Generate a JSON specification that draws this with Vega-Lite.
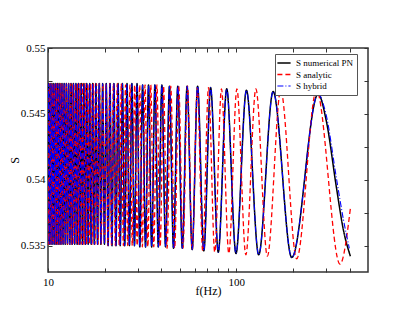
{
"$schema":"https://vega.github.io/schema/vega-lite/v6.json",
"width":320,"height":224,
"autosize":{"type":"none"},
"padding":{"left":48,"top":48,"right":47,"bottom":49},
"background":"white",
"config":{"view":{"stroke":"#333","strokeWidth":1.5},"font":"Liberation Serif"},
"data":{"values":[
{"f":10,"S":0.5446,"c":"n"},{"f":10.034,"S":0.5473,"c":"n"},{"f":10.146,"S":0.5351,"c":"n"},{"f":10.261,"S":0.5473,"c":"n"},{"f":10.378,"S":0.5351,"c":"n"},{"f":10.498,"S":0.5473,"c":"n"},{"f":10.62,"S":0.5351,"c":"n"},{"f":10.746,"S":0.5473,"c":"n"},{"f":10.874,"S":0.5351,"c":"n"},{"f":11.006,"S":0.5473,"c":"n"},{"f":11.141,"S":0.5351,"c":"n"},{"f":11.279,"S":0.5473,"c":"n"},{"f":11.421,"S":0.5351,"c":"n"},{"f":11.566,"S":0.5473,"c":"n"},{"f":11.715,"S":0.5351,"c":"n"},{"f":11.868,"S":0.5473,"c":"n"},{"f":12.025,"S":0.5351,"c":"n"},{"f":12.186,"S":0.5473,"c":"n"},{"f":12.352,"S":0.5351,"c":"n"},{"f":12.522,"S":0.5473,"c":"n"},{"f":12.697,"S":0.5351,"c":"n"},{"f":12.877,"S":0.5473,"c":"n"},{"f":13.062,"S":0.5351,"c":"n"},{"f":13.252,"S":0.5473,"c":"n"},{"f":13.448,"S":0.5351,"c":"n"},{"f":13.65,"S":0.5473,"c":"n"},{"f":13.858,"S":0.5351,"c":"n"},{"f":14.073,"S":0.5473,"c":"n"},{"f":14.294,"S":0.5351,"c":"n"},{"f":14.522,"S":0.5473,"c":"n"},{"f":14.758,"S":0.5351,"c":"n"},{"f":15.002,"S":0.5473,"c":"n"},{"f":15.253,"S":0.5351,"c":"n"},{"f":15.513,"S":0.5473,"c":"n"},{"f":15.783,"S":0.5351,"c":"n"},{"f":16.061,"S":0.5473,"c":"n"},{"f":16.351,"S":0.5351,"c":"n"},{"f":16.65,"S":0.5473,"c":"n"},{"f":16.961,"S":0.5351,"c":"n"},{"f":17.283,"S":0.5473,"c":"n"},{"f":17.618,"S":0.5351,"c":"n"},{"f":17.966,"S":0.5473,"c":"n"},{"f":18.328,"S":0.5351,"c":"n"},{"f":18.706,"S":0.5473,"c":"n"},{"f":19.099,"S":0.5351,"c":"n"},{"f":19.509,"S":0.5473,"c":"n"},{"f":19.936,"S":0.5351,"c":"n"},{"f":20.383,"S":0.5473,"c":"n"},{"f":20.851,"S":0.535,"c":"n"},{"f":21.34,"S":0.5473,"c":"n"},{"f":21.853,"S":0.535,"c":"n"},{"f":22.391,"S":0.5473,"c":"n"},{"f":22.957,"S":0.535,"c":"n"},{"f":23.551,"S":0.5473,"c":"n"},{"f":24.178,"S":0.535,"c":"n"},{"f":24.839,"S":0.5473,"c":"n"},{"f":25.536,"S":0.535,"c":"n"},{"f":26.274,"S":0.5473,"c":"n"},{"f":27.056,"S":0.535,"c":"n"},{"f":27.886,"S":0.5473,"c":"n"},{"f":28.769,"S":0.535,"c":"n"},{"f":29.709,"S":0.5473,"c":"n"},{"f":30.713,"S":0.5349,"c":"n"},{"f":31.786,"S":0.5472,"c":"n"},{"f":32.938,"S":0.5349,"c":"n"},{"f":34.176,"S":0.5472,"c":"n"},{"f":35.511,"S":0.5349,"c":"n"},{"f":36.955,"S":0.5472,"c":"n"},{"f":38.521,"S":0.5349,"c":"n"},{"f":40.225,"S":0.5472,"c":"n"},{"f":42.088,"S":0.5349,"c":"n"},{"f":44.131,"S":0.5471,"c":"n"},{"f":46.382,"S":0.5348,"c":"n"},{"f":48.876,"S":0.5471,"c":"n"},{"f":51.653,"S":0.5348,"c":"n"},{"f":54.765,"S":0.5471,"c":"n"},{"f":58.275,"S":0.5347,"c":"n"},{"f":62.267,"S":0.5471,"c":"n"},{"f":67.2,"S":0.5346,"c":"n"},{"f":72.99,"S":0.547,"c":"n"},{"f":80.16,"S":0.5345,"c":"n"},{"f":88.89,"S":0.5469,"c":"n"},{"f":99.55,"S":0.5344,"c":"n"},{"f":113.12,"S":0.5468,"c":"n"},{"f":131.4,"S":0.5343,"c":"n"},{"f":156.74,"S":0.5467,"c":"n"},{"f":196.9,"S":0.5341,"c":"n"},{"f":271.7,"S":0.5465,"c":"n"},{"f":300,"S":0.5445,"c":"n"},{"f":340,"S":0.5394,"c":"n"},{"f":370,"S":0.5362,"c":"n"},{"f":403,"S":0.5342,"c":"n"},
{"f":10,"S":0.5401,"c":"a"},{"f":10.046,"S":0.5351,"c":"a"},{"f":10.151,"S":0.5473,"c":"a"},{"f":10.258,"S":0.5351,"c":"a"},{"f":10.368,"S":0.5473,"c":"a"},{"f":10.479,"S":0.5351,"c":"a"},{"f":10.594,"S":0.5473,"c":"a"},{"f":10.711,"S":0.5351,"c":"a"},{"f":10.83,"S":0.5473,"c":"a"},{"f":10.952,"S":0.5351,"c":"a"},{"f":11.077,"S":0.5473,"c":"a"},{"f":11.205,"S":0.5351,"c":"a"},{"f":11.336,"S":0.5473,"c":"a"},{"f":11.47,"S":0.5351,"c":"a"},{"f":11.607,"S":0.5473,"c":"a"},{"f":11.748,"S":0.5351,"c":"a"},{"f":11.891,"S":0.5473,"c":"a"},{"f":12.039,"S":0.5351,"c":"a"},{"f":12.19,"S":0.5473,"c":"a"},{"f":12.345,"S":0.5351,"c":"a"},{"f":12.504,"S":0.5473,"c":"a"},{"f":12.667,"S":0.5351,"c":"a"},{"f":12.834,"S":0.5473,"c":"a"},{"f":13.006,"S":0.5351,"c":"a"},{"f":13.183,"S":0.5473,"c":"a"},{"f":13.365,"S":0.5351,"c":"a"},{"f":13.551,"S":0.5473,"c":"a"},{"f":13.743,"S":0.5351,"c":"a"},{"f":13.94,"S":0.5473,"c":"a"},{"f":14.143,"S":0.5351,"c":"a"},{"f":14.352,"S":0.5473,"c":"a"},{"f":14.568,"S":0.5351,"c":"a"},{"f":14.79,"S":0.5473,"c":"a"},{"f":15.018,"S":0.5351,"c":"a"},{"f":15.254,"S":0.5473,"c":"a"},{"f":15.498,"S":0.5351,"c":"a"},{"f":15.749,"S":0.5473,"c":"a"},{"f":16.009,"S":0.5351,"c":"a"},{"f":16.277,"S":0.5473,"c":"a"},{"f":16.555,"S":0.5351,"c":"a"},{"f":16.842,"S":0.5473,"c":"a"},{"f":17.139,"S":0.5351,"c":"a"},{"f":17.447,"S":0.5473,"c":"a"},{"f":17.767,"S":0.5351,"c":"a"},{"f":18.098,"S":0.5473,"c":"a"},{"f":18.442,"S":0.5351,"c":"a"},{"f":18.799,"S":0.5473,"c":"a"},{"f":19.17,"S":0.5351,"c":"a"},{"f":19.556,"S":0.5473,"c":"a"},{"f":19.958,"S":0.5351,"c":"a"},{"f":20.38,"S":0.5473,"c":"a"},{"f":20.81,"S":0.535,"c":"a"},{"f":21.27,"S":0.5473,"c":"a"},{"f":21.75,"S":0.535,"c":"a"},{"f":22.24,"S":0.5473,"c":"a"},{"f":22.77,"S":0.535,"c":"a"},{"f":23.31,"S":0.5473,"c":"a"},{"f":23.89,"S":0.535,"c":"a"},{"f":24.49,"S":0.5473,"c":"a"},{"f":25.12,"S":0.535,"c":"a"},{"f":25.79,"S":0.5472,"c":"a"},{"f":26.49,"S":0.535,"c":"a"},{"f":27.24,"S":0.5472,"c":"a"},{"f":28.02,"S":0.535,"c":"a"},{"f":28.86,"S":0.5472,"c":"a"},{"f":29.74,"S":0.535,"c":"a"},{"f":30.68,"S":0.5472,"c":"a"},{"f":31.68,"S":0.5349,"c":"a"},{"f":32.75,"S":0.5472,"c":"a"},{"f":33.89,"S":0.5349,"c":"a"},{"f":35.12,"S":0.5472,"c":"a"},{"f":36.44,"S":0.5349,"c":"a"},{"f":37.86,"S":0.5472,"c":"a"},{"f":39.39,"S":0.5349,"c":"a"},{"f":41.06,"S":0.5471,"c":"a"},{"f":42.87,"S":0.5348,"c":"a"},{"f":44.85,"S":0.5471,"c":"a"},{"f":47.03,"S":0.5348,"c":"a"},{"f":49.42,"S":0.5471,"c":"a"},{"f":52.07,"S":0.5348,"c":"a"},{"f":55.02,"S":0.5471,"c":"a"},{"f":58.33,"S":0.5347,"c":"a"},{"f":62.05,"S":0.547,"c":"a"},{"f":66.29,"S":0.5346,"c":"a"},{"f":71.15,"S":0.547,"c":"a"},{"f":76.78,"S":0.5345,"c":"a"},{"f":83.37,"S":0.5469,"c":"a"},{"f":91.2,"S":0.5344,"c":"a"},{"f":100.65,"S":0.5469,"c":"a"},{"f":112.3,"S":0.5343,"c":"a"},{"f":126.98,"S":0.5469,"c":"a"},{"f":146.09,"S":0.5342,"c":"a"},{"f":171.97,"S":0.5468,"c":"a"},{"f":208.99,"S":0.534,"c":"a"},{"f":266.3,"S":0.5468,"c":"a"},{"f":355,"S":0.5336,"c":"a"},{"f":403,"S":0.5378,"c":"a"},
{"f":10,"S":0.5446,"c":"h"},{"f":10.034,"S":0.5473,"c":"h"},{"f":10.146,"S":0.5351,"c":"h"},{"f":10.261,"S":0.5473,"c":"h"},{"f":10.378,"S":0.5351,"c":"h"},{"f":10.498,"S":0.5473,"c":"h"},{"f":10.62,"S":0.5351,"c":"h"},{"f":10.746,"S":0.5473,"c":"h"},{"f":10.874,"S":0.5351,"c":"h"},{"f":11.006,"S":0.5473,"c":"h"},{"f":11.141,"S":0.5351,"c":"h"},{"f":11.279,"S":0.5473,"c":"h"},{"f":11.421,"S":0.5351,"c":"h"},{"f":11.566,"S":0.5473,"c":"h"},{"f":11.715,"S":0.5351,"c":"h"},{"f":11.868,"S":0.5473,"c":"h"},{"f":12.025,"S":0.5351,"c":"h"},{"f":12.186,"S":0.5473,"c":"h"},{"f":12.352,"S":0.5351,"c":"h"},{"f":12.522,"S":0.5473,"c":"h"},{"f":12.697,"S":0.5351,"c":"h"},{"f":12.877,"S":0.5473,"c":"h"},{"f":13.062,"S":0.5351,"c":"h"},{"f":13.252,"S":0.5473,"c":"h"},{"f":13.448,"S":0.5351,"c":"h"},{"f":13.65,"S":0.5473,"c":"h"},{"f":13.858,"S":0.5351,"c":"h"},{"f":14.073,"S":0.5473,"c":"h"},{"f":14.294,"S":0.5351,"c":"h"},{"f":14.522,"S":0.5473,"c":"h"},{"f":14.758,"S":0.5351,"c":"h"},{"f":15.002,"S":0.5473,"c":"h"},{"f":15.253,"S":0.5351,"c":"h"},{"f":15.513,"S":0.5473,"c":"h"},{"f":15.783,"S":0.5351,"c":"h"},{"f":16.061,"S":0.5473,"c":"h"},{"f":16.351,"S":0.5351,"c":"h"},{"f":16.65,"S":0.5473,"c":"h"},{"f":16.961,"S":0.5351,"c":"h"},{"f":17.283,"S":0.5473,"c":"h"},{"f":17.618,"S":0.5351,"c":"h"},{"f":17.966,"S":0.5473,"c":"h"},{"f":18.328,"S":0.5351,"c":"h"},{"f":18.706,"S":0.5473,"c":"h"},{"f":19.099,"S":0.5351,"c":"h"},{"f":19.509,"S":0.5473,"c":"h"},{"f":19.936,"S":0.5351,"c":"h"},{"f":20.383,"S":0.5473,"c":"h"},{"f":20.851,"S":0.535,"c":"h"},{"f":21.34,"S":0.5473,"c":"h"},{"f":21.853,"S":0.535,"c":"h"},{"f":22.391,"S":0.5473,"c":"h"},{"f":22.957,"S":0.535,"c":"h"},{"f":23.551,"S":0.5473,"c":"h"},{"f":24.178,"S":0.535,"c":"h"},{"f":24.839,"S":0.5473,"c":"h"},{"f":25.536,"S":0.535,"c":"h"},{"f":26.274,"S":0.5473,"c":"h"},{"f":27.056,"S":0.535,"c":"h"},{"f":27.886,"S":0.5473,"c":"h"},{"f":28.769,"S":0.535,"c":"h"},{"f":29.709,"S":0.5473,"c":"h"},{"f":30.713,"S":0.5349,"c":"h"},{"f":31.786,"S":0.5472,"c":"h"},{"f":32.938,"S":0.5349,"c":"h"},{"f":34.176,"S":0.5472,"c":"h"},{"f":35.511,"S":0.5349,"c":"h"},{"f":36.955,"S":0.5472,"c":"h"},{"f":38.521,"S":0.5349,"c":"h"},{"f":40.225,"S":0.5472,"c":"h"},{"f":42.088,"S":0.5349,"c":"h"},{"f":44.131,"S":0.5471,"c":"h"},{"f":46.382,"S":0.5348,"c":"h"},{"f":48.876,"S":0.5471,"c":"h"},{"f":51.653,"S":0.5348,"c":"h"},{"f":54.765,"S":0.5471,"c":"h"},{"f":58.275,"S":0.5347,"c":"h"},{"f":62.267,"S":0.5471,"c":"h"},{"f":67.2,"S":0.5346,"c":"h"},{"f":72.99,"S":0.547,"c":"h"},{"f":80.16,"S":0.5345,"c":"h"},{"f":88.89,"S":0.5469,"c":"h"},{"f":99.55,"S":0.5344,"c":"h"},{"f":113.12,"S":0.5468,"c":"h"},{"f":131.4,"S":0.5343,"c":"h"},{"f":156.74,"S":0.5467,"c":"h"},{"f":196.9,"S":0.5341,"c":"h"},{"f":271.7,"S":0.5465,"c":"h"},{"f":300,"S":0.5449,"c":"h"},{"f":340,"S":0.5401,"c":"h"},{"f":370,"S":0.537,"c":"h"},{"f":398,"S":0.5348,"c":"h"}
]},
"layer":[
{"mark":{"type":"line","interpolate":"monotone","clip":true},
 "encoding":{
  "x":{"field":"f","type":"quantitative","scale":{"type":"log","domain":[10,500],"nice":false},
   "axis":{"orient":"bottom","values":[10,20,30,40,50,60,70,80,90,100,200,300,400],"labelExpr":"datum.value==10?'10':datum.value==100?'100':''","labelFlush":false,"labelOverlap":false,"grid":false,"domain":false,"tickSize":-4,"tickColor":"#333","labelPadding":8,"labelFont":"Liberation Serif","labelFontSize":11,"labelColor":"black","title":"f(Hz)","titleFont":"Liberation Serif","titleFontSize":12,"titleFontWeight":"normal","titleColor":"black","titleBaseline":"alphabetic","titleY":22}},
  "y":{"field":"S","type":"quantitative","scale":{"domain":[0.533,0.55],"nice":false,"zero":false},
   "axis":{"orient":"left","values":[0.535,0.5375,0.54,0.5425,0.545,0.5475,0.55],"labelExpr":"abs(datum.value*200-round(datum.value*200))<0.01?''+datum.value:''","labelFlush":false,"labelOverlap":false,"grid":false,"domain":false,"tickSize":-4,"tickColor":"#333","labelPadding":7,"labelFont":"Liberation Serif","labelFontSize":11,"labelColor":"black","title":"S","titleFont":"Liberation Serif","titleFontSize":12,"titleFontWeight":"normal","titleColor":"black","titleX":-27,"titleY":112}},
  "strokeWidth":{"field":"c","type":"ordinal","scale":{"domain":["n","a","h"],"range":[1.5,1.1,1.2]},"legend":null},
  "color":{"field":"c","type":"nominal","scale":{"domain":["n","a","h"],"range":["#000000","#ff0000","#0000ff"]},
   "legend":{"orient":"none","legendX":227,"legendY":6,"title":null,"padding":4,"strokeColor":"#555","fillColor":"white","symbolType":"M-1.65,0H1.65","symbolSize":64,"symbolStrokeWidth":1.4,"labelFont":"Liberation Serif","labelFontSize":9,"labelColor":"black","labelOffset":7,"rowPadding":1.5,"labelExpr":"datum.value=='n'?'S numerical PN':datum.value=='a'?'S analytic':'S hybrid'"}},
  "strokeDash":{"field":"c","type":"nominal","scale":{"domain":["n","a","h"],"range":[[1,0],[5,3],[6,2,1,2]]},
   "legend":{"orient":"none","legendX":227,"legendY":6,"title":null,"padding":4,"strokeColor":"#555","fillColor":"white","symbolType":"M-1.65,0H1.65","symbolSize":64,"symbolStrokeWidth":1.4,"labelFont":"Liberation Serif","labelFontSize":9,"labelColor":"black","labelOffset":7,"rowPadding":1.5,"labelExpr":"datum.value=='n'?'S numerical PN':datum.value=='a'?'S analytic':'S hybrid'"}}
 }},
{"mark":{"type":"point","opacity":0},
 "encoding":{
  "x":{"field":"f","type":"quantitative","scale":{"type":"log","domain":[10,500],"nice":false},
   "axis":{"orient":"top","values":[10,20,30,40,50,60,70,80,90,100,200,300,400],"labels":false,"grid":false,"domain":false,"tickSize":-4,"tickColor":"#333","title":null}},
  "y":{"field":"S","type":"quantitative","scale":{"domain":[0.533,0.55],"nice":false,"zero":false},
   "axis":{"orient":"right","values":[0.535,0.5375,0.54,0.5425,0.545,0.5475,0.55],"labels":false,"grid":false,"domain":false,"tickSize":-4,"tickColor":"#333","title":null}}
 }}
],
"resolve":{"scale":{"x":"independent","y":"independent"}}
}
